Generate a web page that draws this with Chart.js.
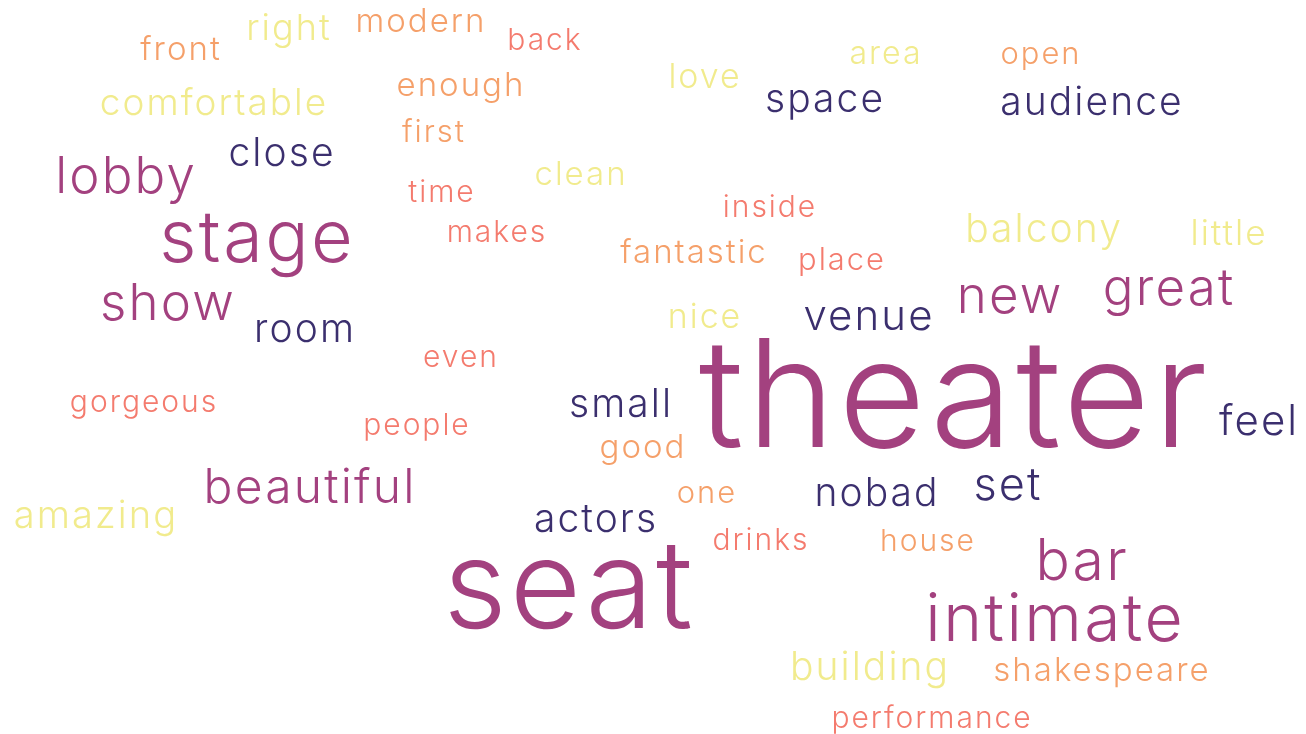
<!DOCTYPE html>
<html>
<head>
<meta charset="utf-8">
<script src="https://cdn.jsdelivr.net/npm/chart.js@4.4.1/dist/chart.umd.min.js"></script>
<style>
  html, body { margin: 0; padding: 0; background: #ffffff; }
  #wrap { width: 1306px; height: 734px; position: relative; }
</style>
</head>
<body>
<div id="wrap"><canvas id="c" width="1306" height="734"></canvas></div>
<script>
// Word cloud data
const words = ["right","modern","back","front","area","open","love","enough","comfortable","space",
  "audience","first","close","lobby","clean","time","inside","makes","stage","balcony",
  "little","fantastic","place","show","new","great","room","venue","nice","even",
  "theater","gorgeous","small","feel","people","good","beautiful","amazing","set","nobad",
  "one","actors","drinks","house","bar","seat","intimate","building","shakespeare","performance"];
// relative frequency weight of each word
const weights = [12,11,10,11,10.7,10.3,11.3,11,12.3,13,
  13,10.3,13,17,11,10,10,10,24,13,
  11.7,11,10.3,17,17,17,13,14,11.3,10,
  50,10,13,14,10,11,16,12.7,15,13,
  10.3,13,10,10,19,41,22,13,11,10];
// cloud layout coordinates (x, baseline y) in the cloud's own units
const xs = [288,420,544,180,885,1040,704,460,213,824,
  1091,433,281,125,580,441,769,496,256,1043,
  1228,693,841,167,1009,1168,304,868,704,460,
  953,143,620,1258,416,642,309,95,1007,876,
  706,595,760,927,1081,568,1054,869,1101,931];
const ys = [40,32,50,60,64,64,88,96,115,112,
  115,142,166,193,185,202,217,242,262,242,
  245,263,270,320,313,305,342,330,328,367,
  447,412,417,435,435,458,503,528,500,506,
  503,532,550,551,580,628,641,680,681,728];
// colour group of each word
const groups = [4,3,2,3,4,3,4,3,4,0,
  0,3,0,1,4,2,2,2,1,4,
  4,3,2,1,1,1,0,0,4,2,
  1,2,0,0,2,3,1,4,0,0,
  3,0,2,3,1,1,1,4,3,2];
const palette = ["#3b2f6e","#a3417f","#f47b6e","#f5a06a","#f1eb8d"];

const points = words.map((w, i) => ({ x: xs[i], y: ys[i], word: w, weight: weights[i], group: groups[i] }));

const wordPlugin = {
  id: 'wordText',
  afterDatasetsDraw(chart) {
    const ctx = chart.ctx;
    const meta = chart.getDatasetMeta(0);
    ctx.save();
    ctx.textAlign = 'center';
    ctx.textBaseline = 'alphabetic';
    meta.data.forEach((el, i) => {
      const d = chart.data.datasets[0].data[i];
      const size = d.weight * 3;
      const ls = 0.012 * size + 1.6;
      ctx.font = '350 ' + size + 'px Inter, "Open Sans", sans-serif';
      ctx.letterSpacing = ls.toFixed(2) + 'px';
      ctx.fillStyle = palette[d.group];
      ctx.fillText(d.word, el.x + ls / 2, el.y);
    });
    ctx.restore();
  }
};

new Chart(document.getElementById('c'), {
  type: 'scatter',
  data: { datasets: [{ data: points, pointRadius: 0, pointHoverRadius: 0 }] },
  options: {
    responsive: false,
    animation: false,
    events: [],
    layout: { padding: 0 },
    plugins: { legend: { display: false }, tooltip: { enabled: false } },
    scales: {
      x: { type: 'linear', min: 0, max: 1306, display: false },
      y: { type: 'linear', min: 0, max: 734, reverse: true, display: false }
    }
  },
  plugins: [wordPlugin]
});
</script>
</body>
</html>
